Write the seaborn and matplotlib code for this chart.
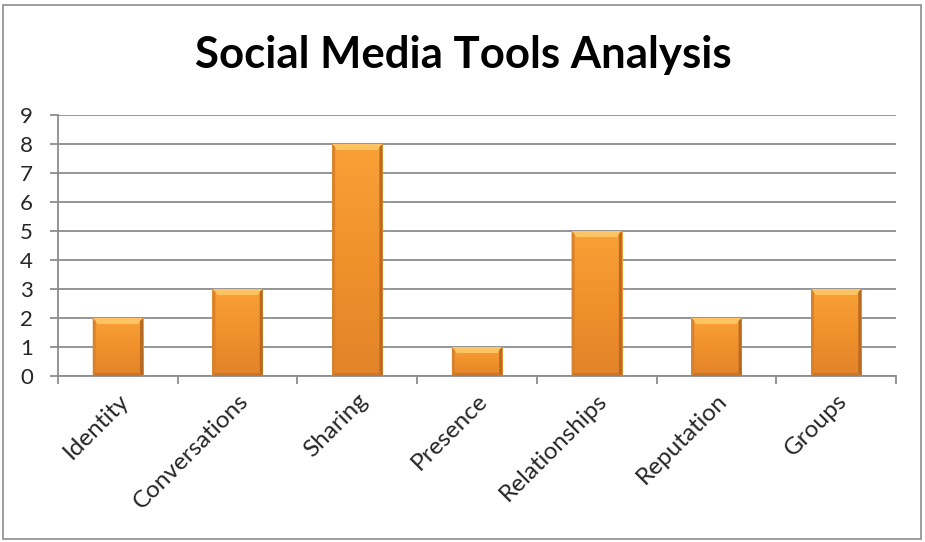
import numpy as np
import pandas as pd
import matplotlib
matplotlib.use("Agg")
import matplotlib.pyplot as plt
import seaborn as sns
from matplotlib.patches import Polygon, Rectangle
from matplotlib.colors import LinearSegmentedColormap

categories = ["Identity", "Conversations", "Sharing", "Presence",
              "Relationships", "Reputation", "Groups"]
values = [2, 3, 8, 1, 5, 2, 3]
y_ticks = [0, 1, 2, 3, 4, 5, 6, 7, 8, 9]
title = "Social Media Tools Analysis"

sns.set_theme(style="white")
plt.rcParams['font.family'] = ['Lato', 'DejaVu Sans']

W, H = 925, 542
fig = plt.figure(figsize=(W / 100, H / 100), dpi=100)
ax = fig.add_axes([58 / W, 1 - 376 / H, (896 - 58) / W, (376 - 115) / H])

df = pd.DataFrame({"cat": categories, "val": values})
sns.barplot(data=df, x="cat", y="val", ax=ax, color="#F39A2C",
            width=0.42, saturation=1, zorder=3)

ax.set_ylim(0, 9)
ax.set_xlim(-0.5, len(categories) - 0.5)
ax.set_yticks(y_ticks)
ax.set_xlabel("")
ax.set_ylabel("")

grid_c = "#8C8C8C"
ax.yaxis.grid(True, color=grid_c, linewidth=1.3, zorder=0)
ax.set_axisbelow(True)
for s in ["top", "right"]:
    ax.spines[s].set_visible(False)
for s in ["left", "bottom"]:
    ax.spines[s].set_color(grid_c)
    ax.spines[s].set_linewidth(1.3)

# x ticks at category boundaries (Excel style), labels at centers
ax.set_xticks(np.arange(len(categories)))
ax.set_xticklabels(categories, rotation=45, ha="right",
                   rotation_mode="anchor", fontsize=17.5)
ax.tick_params(axis="x", which="major", length=0, pad=10)
ax.set_xticks(np.arange(-0.5, len(categories)), minor=True)
ax.tick_params(axis="x", which="minor", length=6, width=1.3,
               color=grid_c, direction="out", bottom=True)
ax.tick_params(axis="y", length=6, width=1.3, color=grid_c,
               direction="out", left=True, pad=12, labelsize=16)

# gradient + bevel decoration on bars
cmap = LinearSegmentedColormap.from_list(
    "org", ["#E3832A", "#F0912C", "#F9A137"])
grad = np.linspace(0, 1, 256).reshape(-1, 1)
fig.canvas.draw()
bbox = ax.get_window_extent()
xr = ax.get_xlim()[1] - ax.get_xlim()[0]
yr = ax.get_ylim()[1] - ax.get_ylim()[0]
bx = 5 * xr / bbox.width
by = 6 * yr / bbox.height
sx = 3 * xr / bbox.width
sy = 3 * yr / bbox.height
for p in ax.patches:
    x0, y0 = p.get_x(), p.get_y()
    w, h = p.get_width(), p.get_height()
    x1, y1 = x0 + w, y0 + h
    p.set_edgecolor("none")
    im = ax.imshow(grad, cmap=cmap, aspect="auto", origin="lower",
                   extent=[x0, x1, y0, y1], zorder=3.5)
    im.set_clip_path(p)
    # top bevel (light)
    ax.add_patch(Polygon([[x0, y1], [x1, y1], [x1 - bx, y1 - by],
                          [x0 + bx, y1 - by]], closed=True,
                         facecolor="#FCC465", edgecolor="none", zorder=4))
    # left bevel
    ax.add_patch(Polygon([[x0, y0], [x0, y1], [x0 + sx, y1 - sy],
                          [x0 + sx, y0 + sy]], closed=True,
                         facecolor="#D9822C", edgecolor="none", zorder=4))
    # right bevel (dark)
    ax.add_patch(Polygon([[x1, y0], [x1, y1], [x1 - sx, y1 - sy],
                          [x1 - sx, y0 + sy]], closed=True,
                         facecolor="#B86A22", edgecolor="none", zorder=4))
    # bottom bevel
    ax.add_patch(Polygon([[x0, y0], [x1, y0], [x1 - sx, y0 + sy],
                          [x0 + sx, y0 + sy]], closed=True,
                         facecolor="#C8762A", edgecolor="none", zorder=4))

fig.text(463 / W, 1 - 55 / H, title, ha="center", va="center",
         fontsize=31.5, fontweight="bold", color="black")

fig.patches.append(Rectangle((3 / W, 3 / H), (921 - 3) / W, (537 - 3) / H,
                             transform=fig.transFigure, fill=False,
                             edgecolor="#8C8C8C", linewidth=1.2))

fig.savefig("out.png", dpi=100)
